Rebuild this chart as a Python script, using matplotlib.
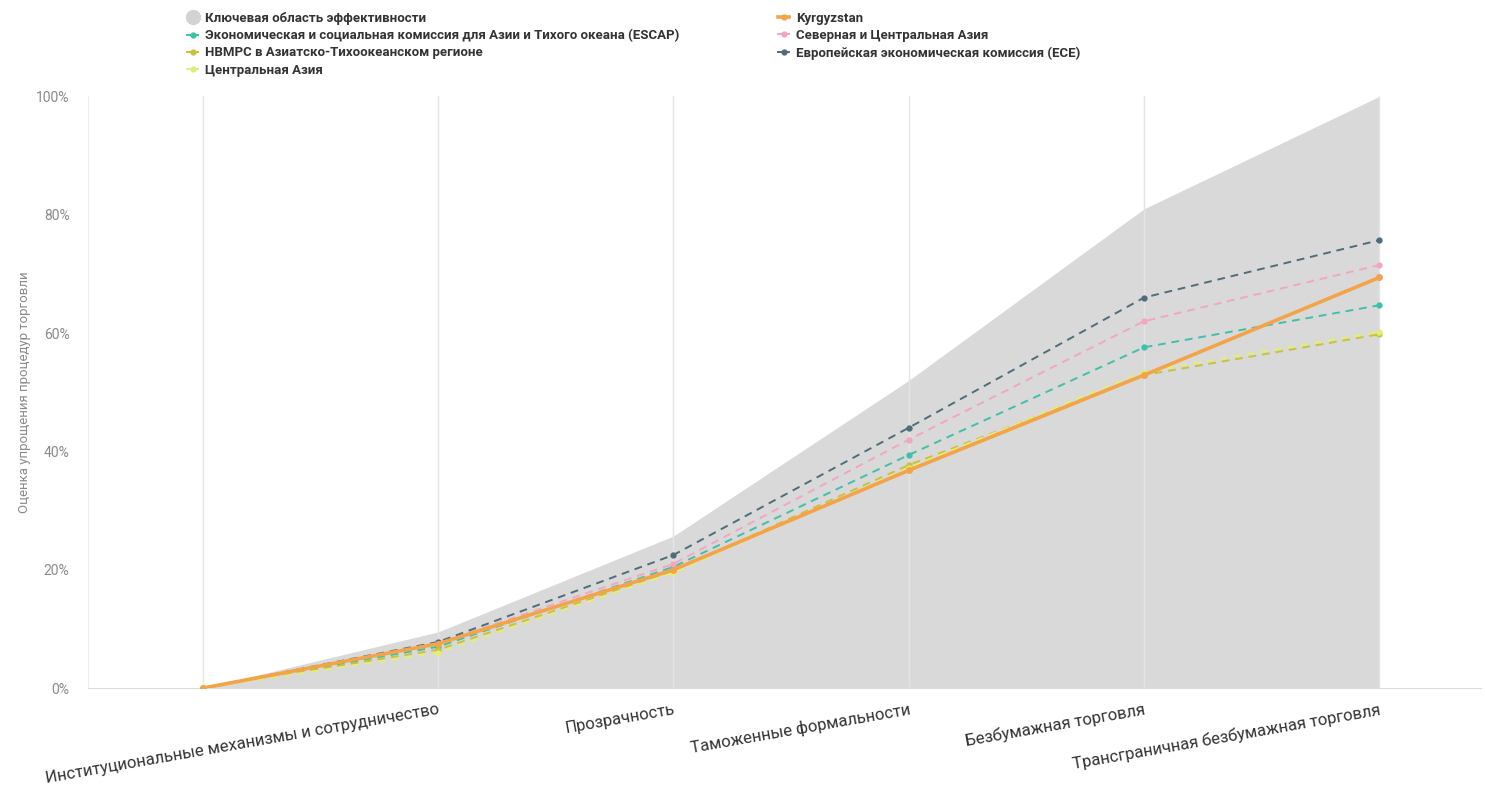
import matplotlib.pyplot as plt
import numpy as np
from matplotlib.lines import Line2D

plt.rcParams['font.family'] = ['Roboto', 'DejaVu Sans']

categories = ["Институциональные механизмы и сотрудничество", "Прозрачность",
              "Таможенные формальности", "Безбумажная торговля",
              "Трансграничная безбумажная торговля"]

# first point of every series is the zero start
key_area = [0, 9.5, 25.7, 52.0, 81.0, 100.0]
kyrgyzstan = [0, 7.5, 20.0, 36.8, 52.9, 69.4]
escap = [0, 7.0, 20.5, 39.4, 57.6, 64.7]
nca = [0, 7.6, 21.0, 42.0, 62.0, 71.5]
lldc = [0, 6.5, 19.8, 37.7, 52.9, 59.8]
ece = [0, 7.8, 22.5, 44.0, 66.0, 75.7]
central_asia = [0, 6.0, 19.5, 37.2, 53.5, 60.2]

fig = plt.figure(figsize=(14.85, 7.9), dpi=100)
ax = fig.add_axes([0.059, 0.129, 0.938, 0.749])

x = np.arange(len(key_area))

ax.fill_between(x, 0, np.array(key_area) / 100, color='#d9d9d9', zorder=1, lw=0)
for xi in x:
    ax.axvline(xi, color='#e4e4e4', lw=1, zorder=2)

series = [
    (escap, '#3fc0a8'),
    (lldc, '#c9c23a'),
    (central_asia, '#e2ee7a'),
    (nca, '#f2a6c4'),
    (ece, '#4f6d78'),
]
for vals, col in series:
    ax.plot(x, np.array(vals) / 100, color=col, ls='--', lw=1.4, marker='o', ms=3.5,
            dashes=(4, 3), zorder=3)
ax.plot(x, np.array(kyrgyzstan) / 100, color='#f4a448', lw=2.6, marker='o', ms=4, zorder=4)

ax.set_xlim(-0.49, 5.43)
ax.set_ylim(0, 1)
ax.set_yticks([0, 0.2, 0.4, 0.6, 0.8, 1.0])
ax.set_yticklabels(["0%", "20%", "40%", "60%", "80%", "100%"], color='#8a8a8a', fontsize=10)
ax.set_xticks(x[1:])
ax.set_xticklabels(categories, rotation=10, ha='right', rotation_mode='anchor',
                   fontsize=12, color='#333333')
ax.tick_params(axis='both', length=0, pad=10)
ax.tick_params(axis='y', pad=13)
ax.set_ylabel("Оценка упрощения процедур торговли", color='#8a8a8a', fontsize=9.5, labelpad=4)

for s in ['top', 'right']:
    ax.spines[s].set_visible(False)
ax.spines['left'].set_color('#eeeeee')
ax.spines['bottom'].set_color('#dddddd')

def h(col, lw=1.4):
    return Line2D([0], [0], color=col, lw=lw, marker='o', ms=3.5)

handles = [
    Line2D([0], [0], color='#d3d3d3', lw=0, marker='o', ms=10),
    h('#3fc0a8'), h('#c9c23a'), h('#e2ee7a'),
    h('#f4a448', lw=2.6), h('#f2a6c4'), h('#4f6d78'),
]
labels = ["Ключевая область эффективности",
          "Экономическая и социальная комиссия для Азии и Тихого океана (ESCAP)",
          "НВМРС в Азиатско-Тихоокеанском регионе",
          "Центральная Азия",
          "Kyrgyzstan",
          "Северная и Центральная Азия",
          "Европейская экономическая комиссия (ECE)"]
leg = fig.legend(handles, labels, ncol=2, loc='upper left', bbox_to_anchor=(0.118, 1.0),
                 frameon=False, handlelength=0.85, handletextpad=0.5, columnspacing=7.5,
                 labelspacing=0.32, prop={'weight': 'bold', 'size': 9.5})
for t in leg.get_texts():
    t.set_color('#333333')

fig.savefig("out.png", dpi=100)
